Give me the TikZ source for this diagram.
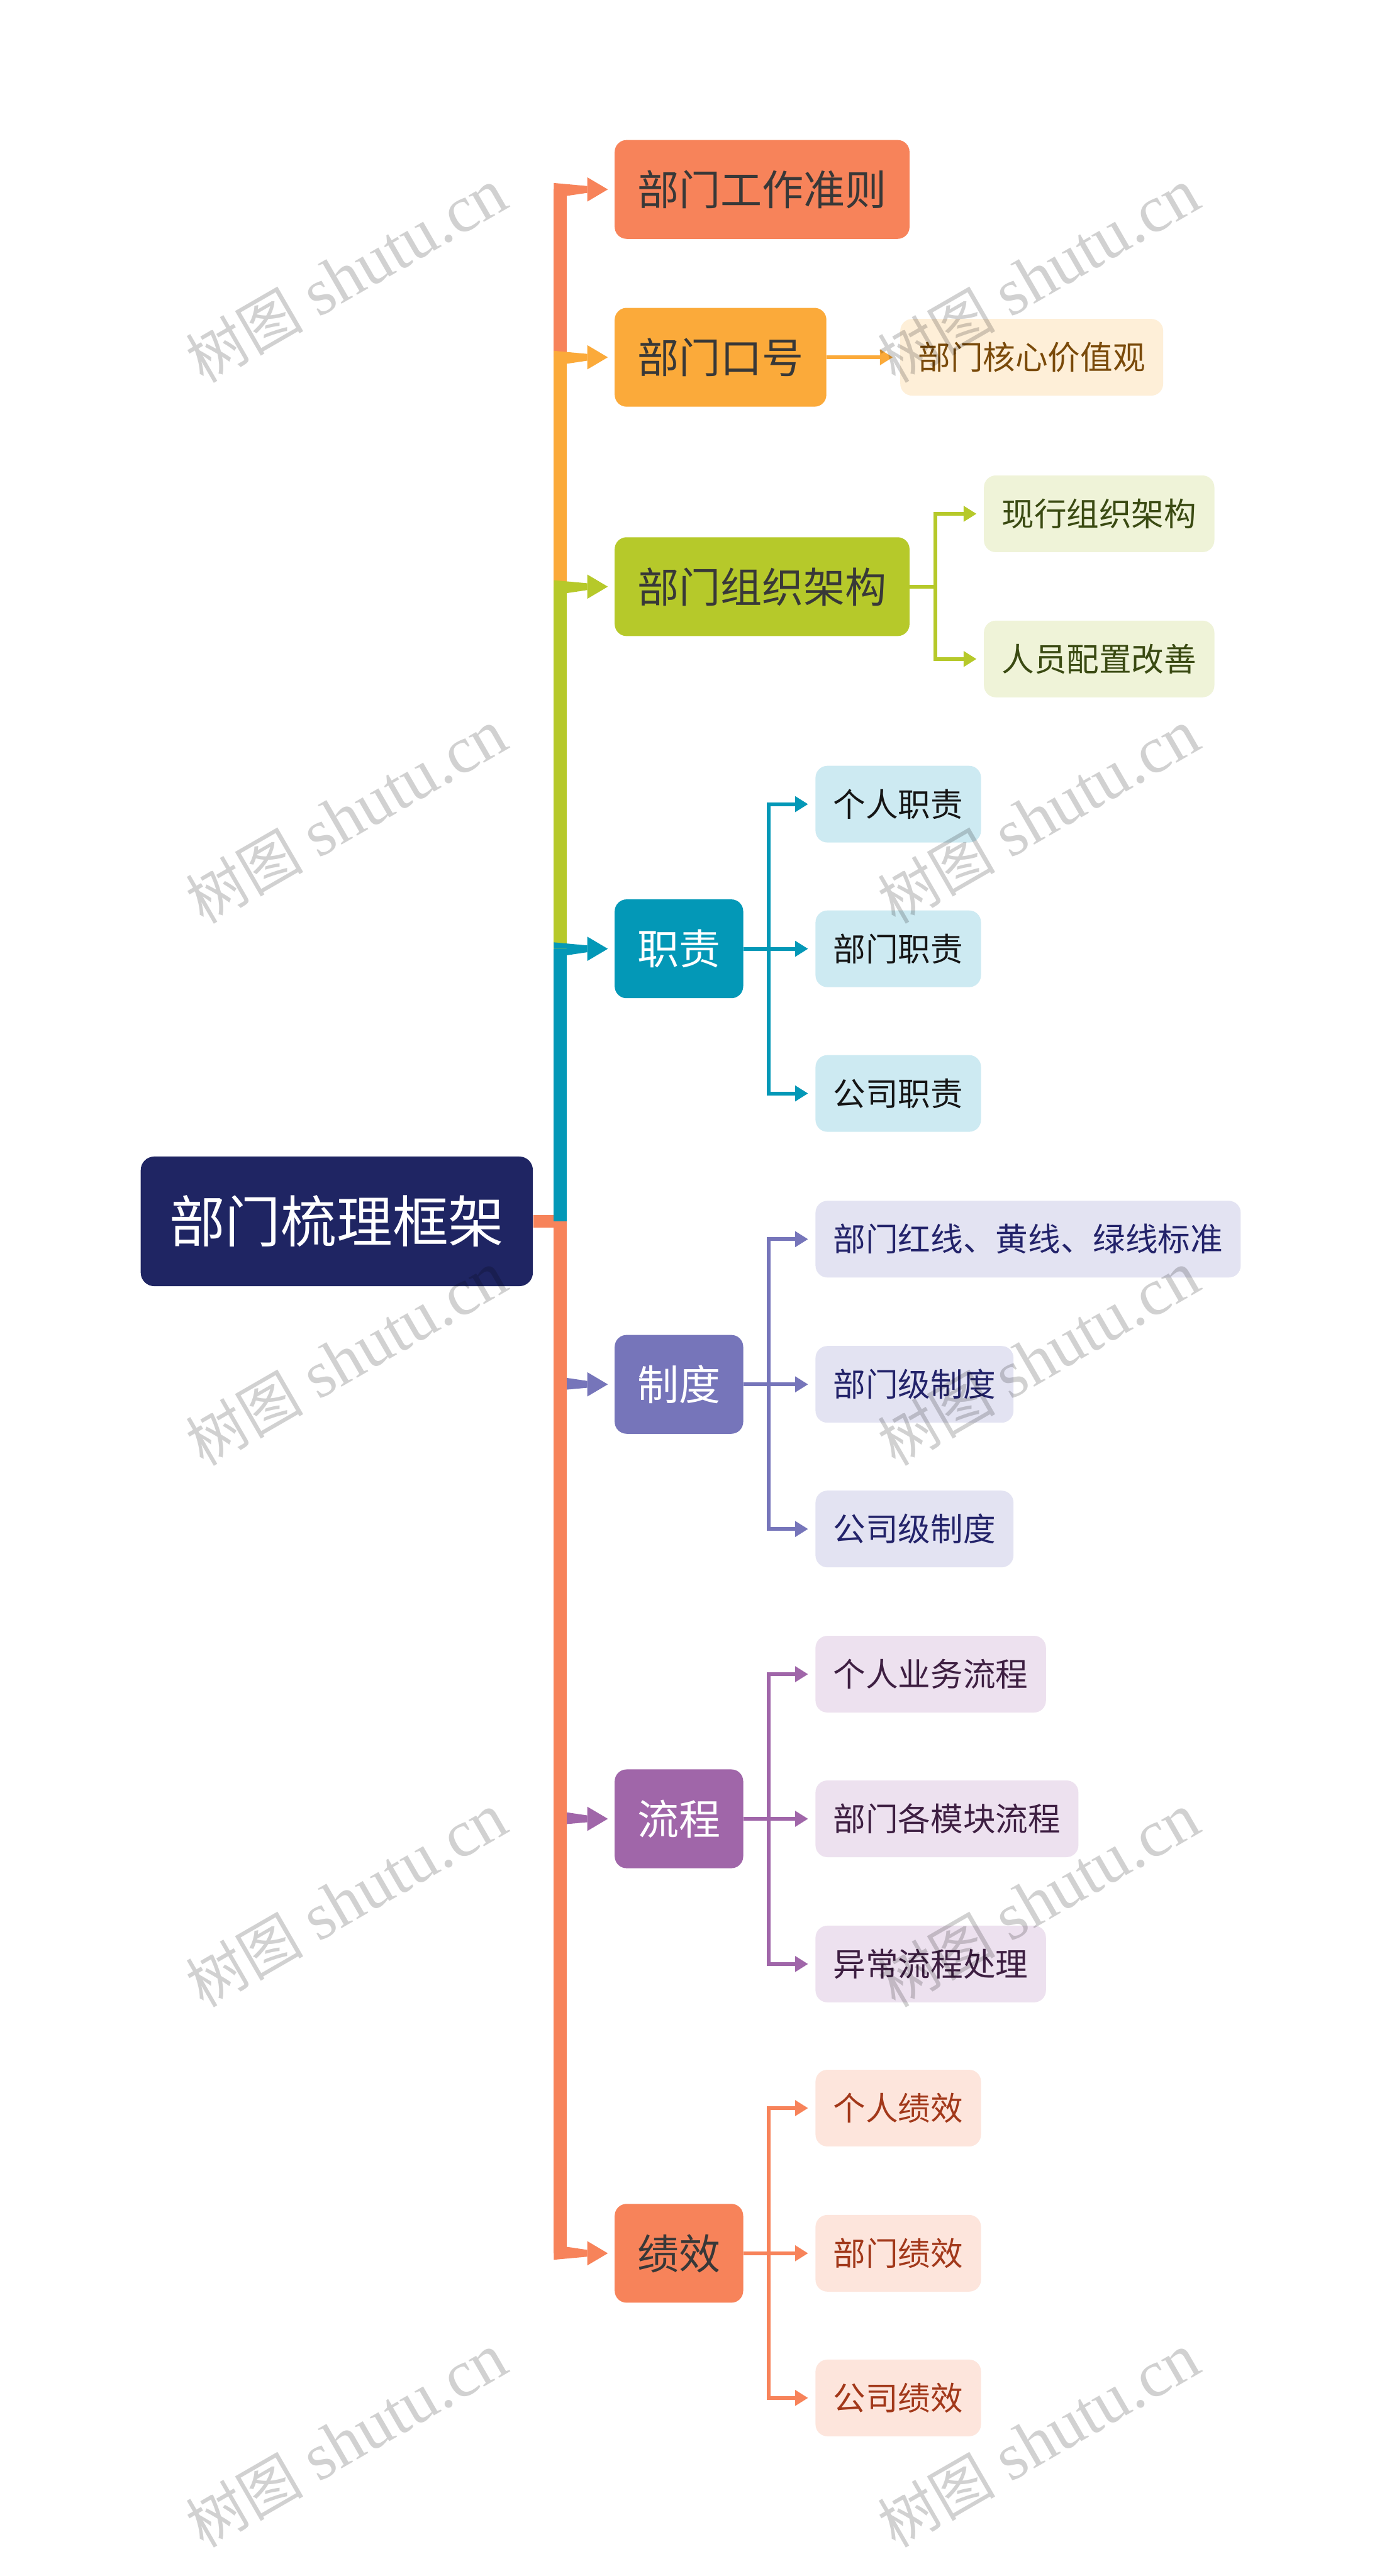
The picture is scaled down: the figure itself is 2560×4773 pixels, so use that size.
\documentclass[tikz,border=0pt]{standalone}
\usepackage{fontspec}
\setmainfont{Noto Sans CJK SC}
\newfontfamily\wmlatin{Liberation Serif}
\usetikzlibrary{positioning, arrows.meta, calc}
\definecolor{cRoot}{HTML}{1F2563}
\definecolor{cInk}{HTML}{383838}
\definecolor{cRule}{HTML}{F7835A}
\definecolor{cSlogan}{HTML}{FBAA3A}
\definecolor{cOrg}{HTML}{B6C92A}
\definecolor{cDuty}{HTML}{0398B7}
\definecolor{cSys}{HTML}{7675BA}
\definecolor{cFlow}{HTML}{A066A9}
\definecolor{cPerf}{HTML}{F7835A}
\definecolor{cSloganL}{HTML}{FEEFD8}
\definecolor{cSloganT}{HTML}{7A4A0A}
\definecolor{cOrgL}{HTML}{EFF3D8}
\definecolor{cOrgT}{HTML}{3A4A12}
\definecolor{cDutyL}{HTML}{CDEAF2}
\definecolor{cDutyT}{HTML}{151515}
\definecolor{cSysL}{HTML}{E3E3F2}
\definecolor{cSysT}{HTML}{23236A}
\definecolor{cFlowL}{HTML}{EDE1EF}
\definecolor{cFlowT}{HTML}{3E1F42}
\definecolor{cPerfL}{HTML}{FDE5DC}
\definecolor{cPerfT}{HTML}{A2381A}

% 主干分支：竖线 + 渐细横线 + 三角箭头
\newcommand{\mainlink}[3]{%
  \draw[trunk, #1] (tk) -- (tk |- #2.west);
  \fill[#1] ($(tk |- #2.west)+(-12,{#3*12})$) -- ($(#2.west)+(-50,{#3*6.3})$)
    -- ($(#2.west)+(-50,{-(#3)*6.3})$) -- ($(tk |- #2.west)+(12,{-(#3)*12})$)
    -- ($(tk |- #2.west)+(12,0)$) -- ($(tk |- #2.west)+(-12,0)$) -- cycle;
  \fill[#1] ($(#2.west)+(-50,-22.5)$) -- ($(#2.west)+(-12,0)$)
    -- ($(#2.west)+(-50,22.5)$) -- cycle;
}
% 子分支：折线箭头
\newcommand{\sublink}[3]{\draw[twig, #1] (#2.east) -- ++(47,0) |- (#3.west);}

\begin{document}
\begin{tikzpicture}[
  x=0.01cm, y=-0.01cm,
  line join=miter,
  rootbox/.style = {fill=cRoot, text=white, rounded corners=0.25cm, anchor=west,
                    minimum height=2.40cm, inner xsep=0.53cm, inner ysep=0pt,
                    text height=25.9pt, text depth=3.5pt,
                    font=\fontsize{29.4}{32}\selectfont},
  mainbox/.style = {rounded corners=0.22cm, anchor=west, minimum height=1.83cm,
                    inner xsep=0.42cm, inner ysep=0pt,
                    text height=19.3pt, text depth=2.6pt,
                    font=\fontsize{21.9}{24}\selectfont},
  subbox/.style  = {rounded corners=0.22cm, anchor=west, minimum height=1.42cm,
                    inner xsep=0.33cm, inner ysep=0pt,
                    text height=15.05pt, text depth=2.05pt,
                    font=\fontsize{17.1}{20}\selectfont},
  trunk/.style   = {line width=0.24cm, line cap=butt},
  twig/.style    = {line width=0.07cm, -{Triangle[length=0.24cm, width=0.28cm]},
                    shorten >=0.13cm},
  wmark/.style   = {rotate=30, text=black, text opacity=0.18, inner sep=0pt,
                    font=\fontsize{35}{40}\selectfont}
]
\fill[white] (0,0) rectangle (2560,4773);
\useasboundingbox (0,0) rectangle (2560,4773);

% 中心主题
\node[rootbox] (root) at (260,2263) {部门梳理框架};
\coordinate (tk) at ($(root.east)+(50,0)$);

% 一级主题
\node[mainbox, fill=cRule, text=cInk]   (rule)   at (1138,351)  {部门工作准则};
\node[mainbox, fill=cSlogan, text=cInk] (slogan) at (1138,662)  {部门口号};
\node[mainbox, fill=cOrg, text=cInk]    (org)    at (1138,1087) {部门组织架构};
\node[mainbox, fill=cDuty, text=white]  (duty)   at (1138,1758) {职责};
\node[mainbox, fill=cSys, text=white]   (sys)    at (1138,2565) {制度};
\node[mainbox, fill=cFlow, text=white]  (flow)   at (1138,3370) {流程};
\node[mainbox, fill=cPerf, text=cInk]   (perf)   at (1138,4175) {绩效};

% 二级主题
\node[subbox, fill=cSloganL, text=cSloganT] (value)  at (1667,662)  {部门核心价值观};
\node[subbox, fill=cOrgL, text=cOrgT]       (orgnow) at (1822,952)  {现行组织架构};
\node[subbox, fill=cOrgL, text=cOrgT]       (staff)  at (1822,1221) {人员配置改善};
\node[subbox, fill=cDutyL, text=cDutyT] (dutyA) at (1510,1490) {个人职责};
\node[subbox, fill=cDutyL, text=cDutyT] (dutyB) at (1510,1758) {部门职责};
\node[subbox, fill=cDutyL, text=cDutyT] (dutyC) at (1510,2026) {公司职责};
\node[subbox, fill=cSysL, text=cSysT] (sysA) at (1510,2296) {部门红线、黄线、绿线标准};
\node[subbox, fill=cSysL, text=cSysT] (sysB) at (1510,2565) {部门级制度};
\node[subbox, fill=cSysL, text=cSysT] (sysC) at (1510,2833) {公司级制度};
\node[subbox, fill=cFlowL, text=cFlowT] (flowA) at (1510,3102) {个人业务流程};
\node[subbox, fill=cFlowL, text=cFlowT] (flowB) at (1510,3370) {部门各模块流程};
\node[subbox, fill=cFlowL, text=cFlowT] (flowC) at (1510,3639) {异常流程处理};
\node[subbox, fill=cPerfL, text=cPerfT] (perfA) at (1510,3906) {个人绩效};
\node[subbox, fill=cPerfL, text=cPerfT] (perfB) at (1510,4175) {部门绩效};
\node[subbox, fill=cPerfL, text=cPerfT] (perfC) at (1510,4443) {公司绩效};

% 主干
\draw[trunk, cPerf] (root.east) -- (tk);
\mainlink{cRule}{rule}{-1}
\mainlink{cSlogan}{slogan}{-1}
\mainlink{cOrg}{org}{-1}
\mainlink{cDuty}{duty}{-1}
\mainlink{cSys}{sys}{1}
\mainlink{cFlow}{flow}{1}
\mainlink{cPerf}{perf}{1}

% 子分支
\draw[twig, cSlogan] (slogan.east) -- (value.west);
\foreach \c in {orgnow, staff} {\sublink{cOrg}{org}{\c}}
\foreach \c in {dutyA, dutyB, dutyC} {\sublink{cDuty}{duty}{\c}}
\foreach \c in {sysA, sysB, sysC} {\sublink{cSys}{sys}{\c}}
\foreach \c in {flowA, flowB, flowC} {\sublink{cFlow}{flow}{\c}}
\foreach \c in {perfA, perfB, perfC} {\sublink{cPerf}{perf}{\c}}

% 水印
\foreach \wy in {511,1513,2517,3521,4522} {
  \foreach \wx in {642,1924} {
    \node[wmark] (wm\wx\wy) at (\wx,\wy)
      {{\fontsize{31}{36}\selectfont 树图} {\wmlatin shutu.cn}};
  }
}
\end{tikzpicture}
\end{document}
